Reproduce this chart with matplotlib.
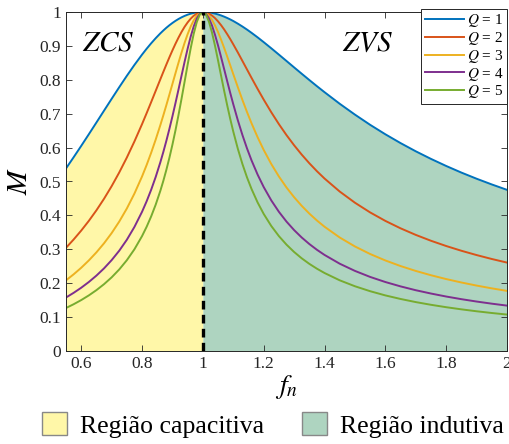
import matplotlib
matplotlib.use("Agg")
import matplotlib.pyplot as plt
from matplotlib.patches import Patch

plt.rcParams['font.family'] = ['Liberation Serif', 'DejaVu Serif']
plt.rcParams['mathtext.fontset'] = 'stix'

fn = [0.55, 0.575, 0.6, 0.625, 0.65, 0.675, 0.7, 0.725, 0.75, 0.775,
      0.8, 0.815, 0.83, 0.845, 0.86, 0.87, 0.88, 0.89, 0.9, 0.91,
      0.92, 0.93, 0.94, 0.95, 0.96, 0.97, 0.98, 0.99, 1.0, 1.01,
      1.02, 1.03, 1.04, 1.05, 1.06, 1.07, 1.08, 1.09, 1.1, 1.115,
      1.13, 1.145, 1.16, 1.18, 1.2, 1.225, 1.25, 1.275, 1.3, 1.325,
      1.35, 1.375, 1.4, 1.45, 1.5, 1.55, 1.6, 1.65, 1.7, 1.75,
      1.8, 1.85, 1.9, 1.95, 2.0]

M_Q1 = [0.5385, 0.5714, 0.6050, 0.6393, 0.6740, 0.7089, 0.7437, 0.7781, 0.8117, 0.8439,
        0.8743, 0.8915, 0.9077, 0.9228, 0.9368, 0.9454, 0.9535, 0.9609, 0.9677, 0.9739,
        0.9794, 0.9843, 0.9885, 0.9921, 0.9950, 0.9972, 0.9988, 0.9997, 1.0, 0.9997,
        0.9988, 0.9974, 0.9953, 0.9928, 0.9898, 0.9863, 0.9824, 0.9781, 0.9734, 0.9656,
        0.9572, 0.9482, 0.9386, 0.9252, 0.9111, 0.8929, 0.8743, 0.8555, 0.8366, 0.8179,
        0.7994, 0.7812, 0.7635, 0.7293, 0.6973, 0.6672, 0.6393, 0.6133, 0.5891, 0.5667,
        0.5458, 0.5263, 0.5082, 0.4913, 0.4754]
M_Q2 = [0.3044, 0.3288, 0.3552, 0.3838, 0.4150, 0.4490, 0.4861, 0.5266, 0.5706, 0.6182,
        0.6692, 0.7013, 0.7342, 0.7676, 0.8011, 0.8233, 0.8451, 0.8664, 0.8869, 0.9064,
        0.9246, 0.9414, 0.9564, 0.9694, 0.9803, 0.9889, 0.9951, 0.9988, 1.0, 0.9988,
        0.9953, 0.9895, 0.9818, 0.9722, 0.9610, 0.9485, 0.9347, 0.9201, 0.9046, 0.8806,
        0.8557, 0.8307, 0.8057, 0.7731, 0.7416, 0.7042, 0.6692, 0.6368, 0.6069, 0.5793,
        0.5539, 0.5304, 0.5088, 0.4704, 0.4374, 0.4088, 0.3838, 0.3619, 0.3425, 0.3252,
        0.3097, 0.2957, 0.2830, 0.2714, 0.2608]
M_Q3 = [0.2084, 0.2261, 0.2455, 0.2671, 0.2910, 0.3177, 0.3477, 0.3817, 0.4203, 0.4644,
        0.5148, 0.5484, 0.5848, 0.6239, 0.6658, 0.6951, 0.7254, 0.7565, 0.7880, 0.8196,
        0.8507, 0.8808, 0.9091, 0.9348, 0.9572, 0.9755, 0.9890, 0.9972, 1.0, 0.9973,
        0.9894, 0.9769, 0.9603, 0.9405, 0.9181, 0.8940, 0.8687, 0.8428, 0.8167, 0.7781,
        0.7407, 0.7052, 0.6718, 0.6306, 0.5932, 0.5515, 0.5148, 0.4823, 0.4537, 0.4282,
        0.4054, 0.3850, 0.3666, 0.3348, 0.3084, 0.2861, 0.2671, 0.2506, 0.2362, 0.2235,
        0.2122, 0.2021, 0.1930, 0.1848, 0.1773]
M_Q4 = [0.1578, 0.1715, 0.1866, 0.2035, 0.2224, 0.2437, 0.2680, 0.2958, 0.3281, 0.3660,
        0.4106, 0.4414, 0.4756, 0.5137, 0.5562, 0.5871, 0.6201, 0.6553, 0.6925, 0.7315,
        0.7718, 0.8127, 0.8533, 0.8921, 0.9275, 0.9577, 0.9807, 0.9951, 1.0, 0.9952,
        0.9814, 0.9600, 0.9325, 0.9009, 0.8667, 0.8314, 0.7960, 0.7613, 0.7279, 0.6806,
        0.6373, 0.5980, 0.5624, 0.5204, 0.4837, 0.4442, 0.4106, 0.3817, 0.3567, 0.3348,
        0.3156, 0.2986, 0.2834, 0.2575, 0.2363, 0.2185, 0.2035, 0.1906, 0.1793, 0.1695,
        0.1607, 0.1529, 0.1459, 0.1396, 0.1339]
M_Q5 = [0.1268, 0.1379, 0.1502, 0.1640, 0.1795, 0.1971, 0.2172, 0.2405, 0.2678, 0.3001,
        0.3389, 0.3662, 0.3970, 0.4320, 0.4720, 0.5018, 0.5345, 0.5701, 0.6090, 0.6512,
        0.6966, 0.7447, 0.7947, 0.8449, 0.8931, 0.9361, 0.9703, 0.9924, 1.0, 0.9926,
        0.9714, 0.9395, 0.9001, 0.8567, 0.8118, 0.7675, 0.7249, 0.6847, 0.6473, 0.5965,
        0.5518, 0.5125, 0.4780, 0.4382, 0.4044, 0.3687, 0.3389, 0.3137, 0.2921, 0.2734,
        0.2571, 0.2428, 0.2301, 0.2085, 0.1910, 0.1764, 0.1640, 0.1535, 0.1443, 0.1363,
        0.1292, 0.1229, 0.1172, 0.1121, 0.1075]

series = [M_Q1, M_Q2, M_Q3, M_Q4, M_Q5]
labels = ['$Q$ = 1', '$Q$ = 2', '$Q$ = 3', '$Q$ = 4', '$Q$ = 5']
colors = ['#0072BD', '#D95319', '#EDB120', '#7E2F8E', '#77AC30']
xticks = [0.6, 0.8, 1, 1.2, 1.4, 1.6, 1.8, 2]
xticklabels = ['0.6', '0.8', '1', '1.2', '1.4', '1.6', '1.8', '2']
yticks = [0, 0.1, 0.2, 0.3, 0.4, 0.5, 0.6, 0.7, 0.8, 0.9, 1]
yticklabels = ['0', '0.1', '0.2', '0.3', '0.4', '0.5', '0.6', '0.7', '0.8', '0.9', '1']
region_labels = ['Região capacitiva', 'Região indutiva']
region_colors = ['#FFF7A8', '#AED4C0']

fig = plt.figure(figsize=(5.09, 4.44), dpi=100)
ax = fig.add_axes([66/509, 93/444, 441/509, 339/444])

left = [x <= 1.0 for x in fn]
right = [x >= 1.0 for x in fn]
ax.fill_between(fn, 0, M_Q1, where=left, color=region_colors[0], linewidth=0)
ax.fill_between(fn, 0, M_Q1, where=right, color=region_colors[1], linewidth=0)

lines = []
for m, lab, c in zip(series, labels, colors):
    ln, = ax.plot(fn, m, color=c, lw=1.4, label=lab, solid_joinstyle='round')
    lines.append(ln)

ax.plot([1, 1], [0, 1], color='black', lw=2.4, linestyle=(0, (2.6, 1.6)), zorder=5)

ax.set_xlim(0.55, 2)
ax.set_ylim(0, 1)
ax.set_xticks(xticks)
ax.set_xticklabels(xticklabels)
ax.set_yticks(yticks)
ax.set_yticklabels(yticklabels)
ax.tick_params(direction='in', top=True, right=True, labelsize=12.5, colors='#262626', length=4, width=0.6)
for s in ax.spines.values():
    s.set_color('#262626')
    s.set_linewidth(0.7)

ax.set_xlabel('$f_n$', fontsize=20, labelpad=1)
ax.set_ylabel('$M$', fontsize=21, labelpad=5)

ax.text(0.69, 0.906, '$ZCS$', fontsize=21, ha='center', va='center')
ax.text(1.54, 0.906, '$ZVS$', fontsize=21, ha='center', va='center')

leg = ax.legend(handles=lines, loc='upper right', bbox_to_anchor=(1.0, 1.01), fontsize=11,
                frameon=True, fancybox=False, edgecolor='#262626', framealpha=1,
                borderpad=0.25, labelspacing=0.05, handlelength=2.6, handletextpad=0.15,
                borderaxespad=0.0)
leg.get_frame().set_linewidth(0.7)

patches = [Patch(facecolor=region_colors[0], edgecolor='#888888', label=region_labels[0]),
           Patch(facecolor=region_colors[1], edgecolor='#888888', label=region_labels[1])]
fig.legend(handles=patches, loc='center', bbox_to_anchor=(0.536, 0.043), ncol=2, frameon=False,
           fontsize=18.5, handlelength=1.0, handleheight=1.0, handletextpad=0.5,
           columnspacing=1.45, borderpad=0)

fig.savefig('out.png', dpi=100)
